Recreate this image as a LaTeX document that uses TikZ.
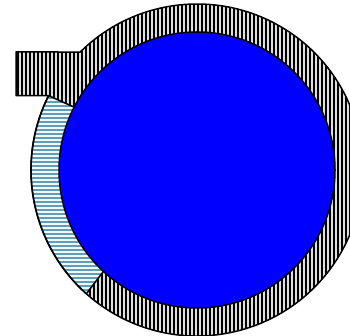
\documentclass[tikz,border=0pt]{standalone}
\usepackage{tikz}
\definecolor{coreblue}{RGB}{0,0,255}
\definecolor{hatchteal}{RGB}{95,158,180}
\definecolor{hatchback}{RGB}{222,222,222}
\definecolor{segback}{RGB}{240,248,250}
\tikzset{
  outline/.style={draw=black, line width=1.5pt, line join=round},
  vhatch/.style={black, line width=1.5pt},
  hhatch/.style={hatchteal, line width=1.3pt},
  corefill/.style={outline, fill=coreblue}
}

\begin{document}
\begin{tikzpicture}[x=1pt, y=1pt]
      \useasboundingbox (0,0) rectangle (350,336);
      \clip (0,0) rectangle (350,336);
      \coordinate (center) at (197,166);
      \coordinate (tabtop) at (16,284);
      \coordinate (tabbot) at (16,240.3);
      \coordinate (segtop) at ([shift={(center)}]153.4:166);
      \coordinate (segtopin) at ([shift={(center)}]152.9:138);
      \coordinate (segbotin) at ([shift={(center)}]227.3:138);
      % ring with the tab
      \begin{scope}
        \clip (segtop) arc[start angle=153.4, end angle=494.7, radius=166] -- (tabtop) -- (tabbot) -- cycle;
        \fill[hatchback] (0,0) rectangle (350,336);
        \foreach \x in {18,22,...,350}
          \draw[vhatch] (\x,0) -- (\x,336);
      \end{scope}
      % segment on the left
      \begin{scope}
        \clip (segtop) arc[start angle=153.4, end angle=228.2, radius=166] -- (segbotin) -- (center) -- (segtopin) -- cycle;
        \fill[segback] (0,0) rectangle (350,336);
        \foreach \y in {2,6,...,336}
          \draw[hhatch] (0,\y) -- (350,\y);
      \end{scope}
      \draw[outline] (segtop) arc[start angle=153.4, end angle=494.7, radius=166] -- (tabtop) -- (tabbot) -- (segtop) -- (segtopin);
      \draw[outline] (segtop) arc[start angle=153.4, end angle=228.2, radius=166] -- (segbotin);
      \draw[corefill] (center) circle[radius=138];
    \end{tikzpicture}
\end{document}
